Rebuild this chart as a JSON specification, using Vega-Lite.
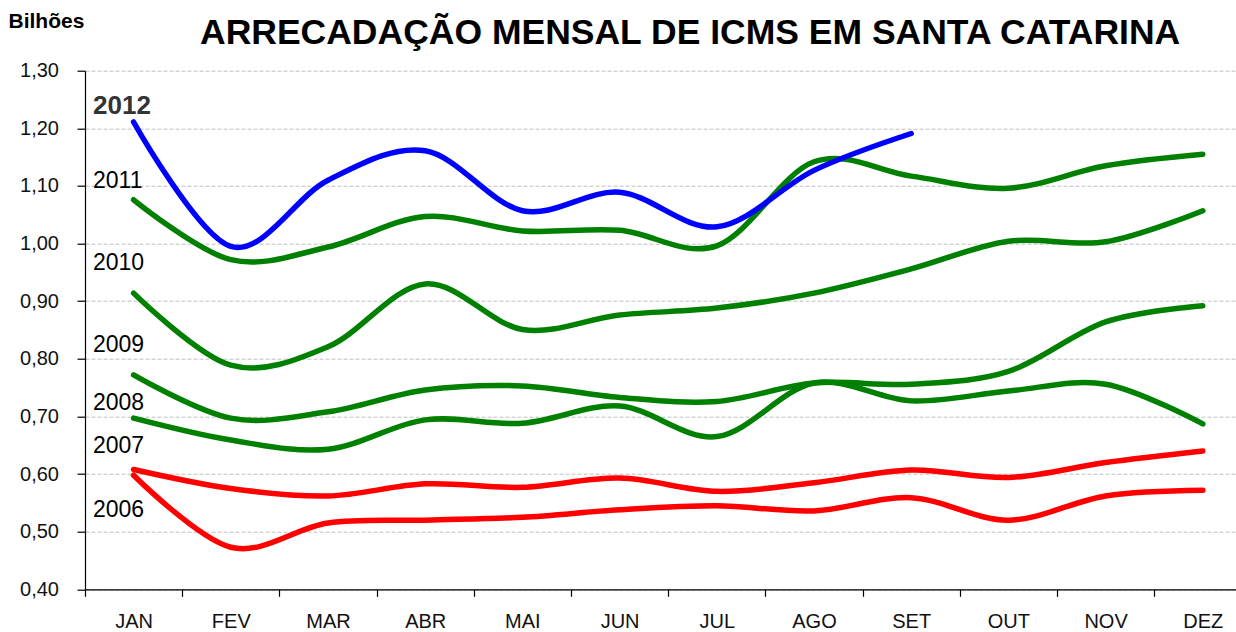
{
  "$schema": "https://vega.github.io/schema/vega-lite/v6.json",
  "autosize": {"type": "none"},
  "width": 1151,
  "height": 518.6,
  "padding": {"left": 85, "top": 70.7, "right": 0, "bottom": 42.7},
  "background": "white",
  "config": {"view": {"stroke": null}, "font": "Liberation Sans"},
  "title": {
    "text": "ARRECADAÇÃO MENSAL DE ICMS EM SANTA CATARINA",
    "anchor": "start",
    "frame": "group",
    "dx": 115,
    "fontSize": 35.5,
    "fontWeight": "bold",
    "font": "Liberation Sans",
    "color": "#000000",
    "baseline": "alphabetic",
    "offset": -69
  },
  "datasets": {
    "serie": [
      {"ano": "2006", "mes": "JAN", "valor": 0.598},
      {"ano": "2006", "mes": "FEV", "valor": 0.473},
      {"ano": "2006", "mes": "MAR", "valor": 0.515},
      {"ano": "2006", "mes": "ABR", "valor": 0.520},
      {"ano": "2006", "mes": "MAI", "valor": 0.525},
      {"ano": "2006", "mes": "JUN", "valor": 0.538},
      {"ano": "2006", "mes": "JUL", "valor": 0.545},
      {"ano": "2006", "mes": "AGO", "valor": 0.536},
      {"ano": "2006", "mes": "SET", "valor": 0.559},
      {"ano": "2006", "mes": "OUT", "valor": 0.520},
      {"ano": "2006", "mes": "NOV", "valor": 0.562},
      {"ano": "2006", "mes": "DEZ", "valor": 0.572},
      {"ano": "2007", "mes": "JAN", "valor": 0.608},
      {"ano": "2007", "mes": "FEV", "valor": 0.575},
      {"ano": "2007", "mes": "MAR", "valor": 0.562},
      {"ano": "2007", "mes": "ABR", "valor": 0.583},
      {"ano": "2007", "mes": "MAI", "valor": 0.577},
      {"ano": "2007", "mes": "JUN", "valor": 0.593},
      {"ano": "2007", "mes": "JUL", "valor": 0.570},
      {"ano": "2007", "mes": "AGO", "valor": 0.585},
      {"ano": "2007", "mes": "SET", "valor": 0.607},
      {"ano": "2007", "mes": "OUT", "valor": 0.594},
      {"ano": "2007", "mes": "NOV", "valor": 0.620},
      {"ano": "2007", "mes": "DEZ", "valor": 0.640},
      {"ano": "2008", "mes": "JAN", "valor": 0.697},
      {"ano": "2008", "mes": "FEV", "valor": 0.659},
      {"ano": "2008", "mes": "MAR", "valor": 0.643},
      {"ano": "2008", "mes": "ABR", "valor": 0.694},
      {"ano": "2008", "mes": "MAI", "valor": 0.688},
      {"ano": "2008", "mes": "JUN", "valor": 0.718},
      {"ano": "2008", "mes": "JUL", "valor": 0.665},
      {"ano": "2008", "mes": "AGO", "valor": 0.758},
      {"ano": "2008", "mes": "SET", "valor": 0.727},
      {"ano": "2008", "mes": "OUT", "valor": 0.744},
      {"ano": "2008", "mes": "NOV", "valor": 0.756},
      {"ano": "2008", "mes": "DEZ", "valor": 0.687},
      {"ano": "2009", "mes": "JAN", "valor": 0.772},
      {"ano": "2009", "mes": "FEV", "valor": 0.697},
      {"ano": "2009", "mes": "MAR", "valor": 0.708},
      {"ano": "2009", "mes": "ABR", "valor": 0.746},
      {"ano": "2009", "mes": "MAI", "valor": 0.753},
      {"ano": "2009", "mes": "JUN", "valor": 0.733},
      {"ano": "2009", "mes": "JUL", "valor": 0.726},
      {"ano": "2009", "mes": "AGO", "valor": 0.758},
      {"ano": "2009", "mes": "SET", "valor": 0.756},
      {"ano": "2009", "mes": "OUT", "valor": 0.778},
      {"ano": "2009", "mes": "NOV", "valor": 0.864},
      {"ano": "2009", "mes": "DEZ", "valor": 0.892},
      {"ano": "2010", "mes": "JAN", "valor": 0.914},
      {"ano": "2010", "mes": "FEV", "valor": 0.789},
      {"ano": "2010", "mes": "MAR", "valor": 0.821},
      {"ano": "2010", "mes": "ABR", "valor": 0.930},
      {"ano": "2010", "mes": "MAI", "valor": 0.851},
      {"ano": "2010", "mes": "JUN", "valor": 0.876},
      {"ano": "2010", "mes": "JUL", "valor": 0.888},
      {"ano": "2010", "mes": "AGO", "valor": 0.914},
      {"ano": "2010", "mes": "SET", "valor": 0.956},
      {"ano": "2010", "mes": "OUT", "valor": 1.004},
      {"ano": "2010", "mes": "NOV", "valor": 1.003},
      {"ano": "2010", "mes": "DEZ", "valor": 1.057},
      {"ano": "2011", "mes": "JAN", "valor": 1.076},
      {"ano": "2011", "mes": "FEV", "valor": 0.972},
      {"ano": "2011", "mes": "MAR", "valor": 0.994},
      {"ano": "2011", "mes": "ABR", "valor": 1.047},
      {"ano": "2011", "mes": "MAI", "valor": 1.022},
      {"ano": "2011", "mes": "JUN", "valor": 1.023},
      {"ano": "2011", "mes": "JUL", "valor": 0.996},
      {"ano": "2011", "mes": "AGO", "valor": 1.142},
      {"ano": "2011", "mes": "SET", "valor": 1.117},
      {"ano": "2011", "mes": "OUT", "valor": 1.096},
      {"ano": "2011", "mes": "NOV", "valor": 1.135},
      {"ano": "2011", "mes": "DEZ", "valor": 1.155},
      {"ano": "2012", "mes": "JAN", "valor": 1.211},
      {"ano": "2012", "mes": "FEV", "valor": 0.995},
      {"ano": "2012", "mes": "MAR", "valor": 1.110},
      {"ano": "2012", "mes": "ABR", "valor": 1.161},
      {"ano": "2012", "mes": "MAI", "valor": 1.057},
      {"ano": "2012", "mes": "JUN", "valor": 1.089},
      {"ano": "2012", "mes": "JUL", "valor": 1.029},
      {"ano": "2012", "mes": "AGO", "valor": 1.127},
      {"ano": "2012", "mes": "SET", "valor": 1.191}
    ],
    "rotulos": [
      {"ano": "2012", "mes": "JAN", "pos": 1.225},
      {"ano": "2011", "mes": "JAN", "pos": 1.0965},
      {"ano": "2010", "mes": "JAN", "pos": 0.954},
      {"ano": "2009", "mes": "JAN", "pos": 0.812},
      {"ano": "2008", "mes": "JAN", "pos": 0.712},
      {"ano": "2007", "mes": "JAN", "pos": 0.636},
      {"ano": "2006", "mes": "JAN", "pos": 0.525}
    ]
  },
  "layer": [
    {
      "data": {"name": "serie"},
      "mark": {"type": "line", "interpolate": "cardinal", "strokeWidth": 5.5, "strokeCap": "round", "strokeJoin": "round"},
      "encoding": {
        "x": {
          "field": "mes",
          "type": "nominal",
          "sort": ["JAN", "FEV", "MAR", "ABR", "MAI", "JUN", "JUL", "AGO", "SET", "OUT", "NOV", "DEZ"],
          "scale": {"type": "band", "range": [0, 1166.4], "paddingInner": 0, "paddingOuter": 0},
          "axis": {
            "title": null,
            "tickBand": "extent",
            "grid": false,
            "domainColor": "#000000",
            "domainWidth": 1.2,
            "tickColor": "#000000",
            "tickWidth": 1.2,
            "tickSize": 7,
            "labelPadding": 15,
            "labelFont": "Liberation Sans",
            "labelFontSize": 20,
            "labelColor": "#111111",
            "labelAngle": 0
          }
        },
        "y": {
          "field": "valor",
          "type": "quantitative",
          "scale": {"domain": [0.4, 1.3], "nice": false, "zero": false},
          "axis": {
            "values": [0.4, 0.5, 0.6, 0.7, 0.8, 0.9, 1.0, 1.1, 1.2, 1.3],
            "labelExpr": "replace(format(datum.value, '.2f'), '.', ',')",
            "grid": true,
            "gridColor": "#c0c0c0",
            "gridDash": [4, 2],
            "gridWidth": 1,
            "domainColor": "#000000",
            "domainWidth": 1.2,
            "tickColor": "#000000",
            "tickWidth": 1.2,
            "tickSize": 8,
            "labelPadding": 18.5,
            "labelFont": "Liberation Sans",
            "labelFontSize": 20,
            "labelColor": "#111111",
            "title": "Bilhões",
            "titleAngle": 0,
            "titleAlign": "left",
            "titleBaseline": "alphabetic",
            "titleX": -77,
            "titleY": -42.7,
            "titleFont": "Liberation Sans",
            "titleFontSize": 21,
            "titleFontWeight": "bold",
            "titleColor": "#000000"
          }
        },
        "color": {
          "field": "ano",
          "type": "nominal",
          "scale": {
            "domain": ["2006", "2007", "2008", "2009", "2010", "2011", "2012"],
            "range": ["#ff0000", "#ff0000", "#008000", "#008000", "#008000", "#008000", "#0000ff"]
          },
          "legend": null
        }
      }
    },
    {
      "data": {"name": "rotulos"},
      "transform": [{"filter": "datum.ano != '2012'"}],
      "mark": {"type": "text", "align": "left", "baseline": "alphabetic", "dx": -40.6, "font": "Liberation Sans", "fontSize": 23, "color": "#000000"},
      "encoding": {
        "x": {"field": "mes", "type": "nominal", "sort": ["JAN", "FEV", "MAR", "ABR", "MAI", "JUN", "JUL", "AGO", "SET", "OUT", "NOV", "DEZ"]},
        "y": {"field": "pos", "type": "quantitative"},
        "text": {"field": "ano"}
      }
    },
    {
      "data": {"name": "rotulos"},
      "transform": [{"filter": "datum.ano == '2012'"}],
      "mark": {"type": "text", "align": "left", "baseline": "alphabetic", "dx": -40.6, "font": "Liberation Sans", "fontSize": 26, "fontWeight": "bold", "color": "#333333"},
      "encoding": {
        "x": {"field": "mes", "type": "nominal", "sort": ["JAN", "FEV", "MAR", "ABR", "MAI", "JUN", "JUL", "AGO", "SET", "OUT", "NOV", "DEZ"]},
        "y": {"field": "pos", "type": "quantitative"},
        "text": {"field": "ano"}
      }
    }
  ]
}
